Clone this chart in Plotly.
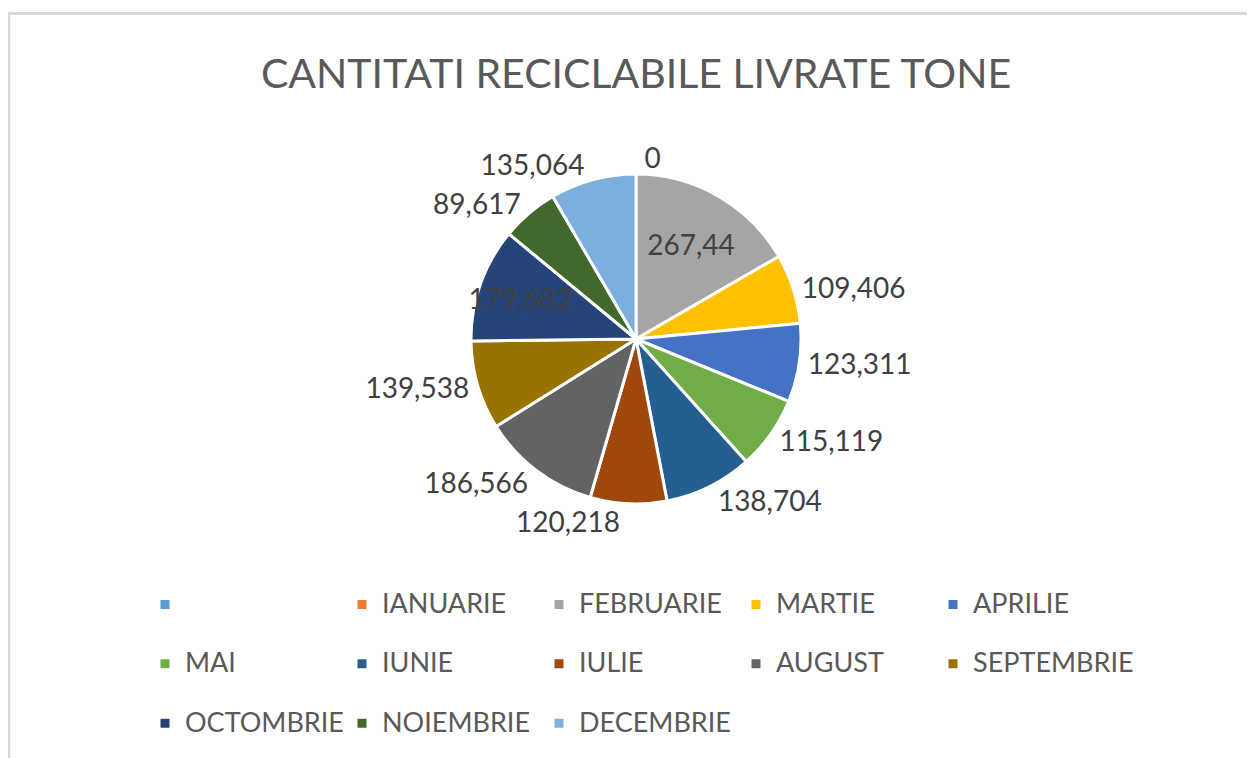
import plotly.graph_objects as go

months = ["", "IANUARIE", "FEBRUARIE", "MARTIE", "APRILIE", "MAI", "IUNIE",
          "IULIE", "AUGUST", "SEPTEMBRIE", "OCTOMBRIE", "NOIEMBRIE", "DECEMBRIE"]
values = [0, 0, 267.44, 109.406, 123.311, 115.119, 138.704,
          120.218, 186.566, 139.538, 179.682, 89.617, 135.064]
value_labels = ["", "0", "267,44", "109,406", "123,311", "115,119", "138,704",
                "120,218", "186,566", "139,538", "179,682", "89,617", "135,064"]
colors = ["#5B9BD5", "#ED7D31", "#A5A5A5", "#FFC000", "#4472C4", "#70AD47", "#255E91",
          "#9E480E", "#636363", "#997300", "#264478", "#43682B", "#7CAFDD"]
inside_months = ["FEBRUARIE", "OCTOMBRIE"]

FONT = "Lato"
# page body has an 8px margin, so the figure is 16px smaller than the window
W, H = 1247, 750
MR = 150                 # right margin so the horizontal legend wraps after 5 entries
PW = W - MR              # plot-area width (paper units are relative to it)

# legend labels: month name on a first line, spacer second line (row spacing)
legend_labels = ['<span style="font-size:27px">%s</span><br>\u00a0' % (m if m else "\u200b" * (i + 1))
                 for i, m in enumerate(months)]
positions = ["none" if m == "" else ("inside" if m in inside_months else "outside") for m in months]

cx, cy, r = 628, 331, 165

fig = go.Figure(go.Pie(
    labels=legend_labels,
    values=values,
    text=value_labels,
    textinfo="text",
    textposition=positions,
    insidetextorientation="horizontal",
    sort=False,
    direction="clockwise",
    rotation=0,
    marker=dict(colors=colors, line=dict(color="white", width=3)),
    textfont=dict(family=FONT, size=28, color="#404040"),
    domain=dict(x=[(cx - r) / PW, (cx + r) / PW], y=[1 - (cy + r) / H, 1 - (cy - r) / H]),
    hoverinfo="label+text",
))

fig.update_layout(
    width=W, height=H,
    margin=dict(l=0, r=MR, t=0, b=0, autoexpand=False),
    paper_bgcolor="white",
    plot_bgcolor="white",
    uniformtext=dict(minsize=28, mode="show"),
    title=dict(text="CANTITATI RECICLABILE LIVRATE TONE", x=628 / W, xanchor="center",
               y=1 - 66 / H, yanchor="middle",
               font=dict(family=FONT, size=41, color="#595959")),
    legend=dict(orientation="h", x=137 / PW, xanchor="left", y=1 - 568 / H, yanchor="top",
                entrywidth=152, entrywidthmode="pixels", valign="top", maxheight=400,
                font=dict(family=FONT, size=21.7, color="#595959"),
                # blank, wide legend title: widens the legend clip so the last column is not cut
                title=dict(text="\u00a0" * 1200, side="top", font=dict(family=FONT, size=6)),
                bgcolor="rgba(0,0,0,0)"),
    shapes=[
        dict(type="line", xref="paper", yref="paper", x0=0, x1=W / PW, y0=1 - 5.5 / H, y1=1 - 5.5 / H,
             line=dict(color="#D9D9D9", width=3)),
        dict(type="line", xref="paper", yref="paper", x0=1 / PW, x1=1 / PW, y0=0, y1=1 - 4 / H,
             line=dict(color="#D9D9D9", width=2.5)),
    ],
)

fig.write_html("out.html")
